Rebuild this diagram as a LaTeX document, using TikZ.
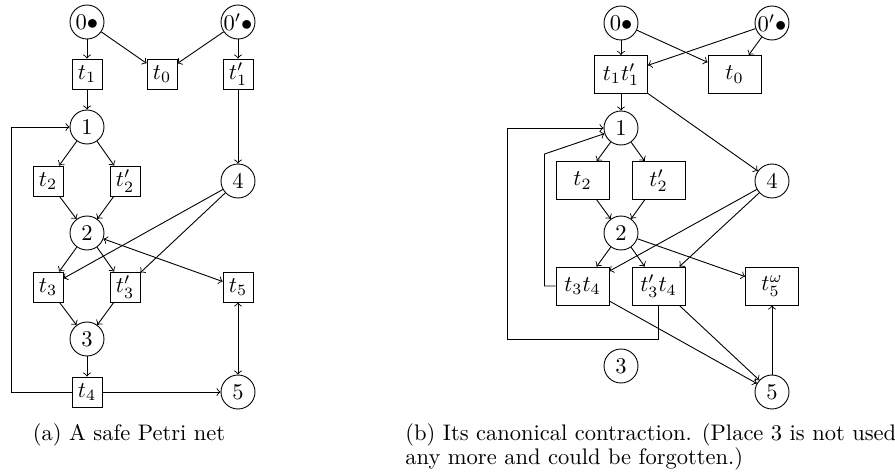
\documentclass[tikz,border=0pt]{standalone}
\usepackage{amsmath,amssymb}
\usepackage{tikz}
\usetikzlibrary{arrows,positioning}

\begin{document}
\begin{tikzpicture}[x=0.4444pt,y=-0.4444pt,>=to]
\tikzstyle{place}=[circle,draw,minimum size=15.1pt,inner sep=0pt]
\tikzstyle{trans}=[rectangle,draw,minimum size=13.3pt,inner sep=1pt]
\tikzstyle{ctrans}=[rectangle,draw,minimum width=23.6pt,minimum height=16.9pt,inner sep=1pt]
\tikzstyle{every path}=[->]
\useasboundingbox (0,0) rectangle (895,471);

% the safe net
\node[place] (p0) at (87,22) {$0\bullet$};
\node[place] (p0p) at (238,22) {$0'\bullet$};
\node[trans] (t1) at (87,74) {$t_1$};
\node[trans] (t0) at (162,74) {$t_0$};
\node[trans] (t1p) at (238,74) {$t'_1$};
\node[place] (p1) at (87,127) {$1$};
\node[trans] (t2) at (48,181) {$t_2$};
\node[trans] (t2p) at (125,181) {$t'_2$};
\node[place] (p4) at (238,181) {$4$};
\node[place] (p2) at (87,233) {$2$};
\node[trans] (t3) at (48,287) {$t_3$};
\node[trans] (t3p) at (125,287) {$t'_3$};
\node[trans] (t5) at (238,287) {$t_5$};
\node[place] (p3) at (87,339) {$3$};
\node[trans] (t4) at (87,392) {$t_4$};
\node[place] (p5) at (238,392) {$5$};

\draw (p0) -- (t1);
\draw (p0) -- (t0);
\draw (p0p) -- (t0);
\draw (p0p) -- (t1p);
\draw (t1) -- (p1);
\draw (t1p) -- (p4);
\draw (p1) -- (t2);
\draw (p1) -- (t2p);
\draw (t2) -- (p2);
\draw (t2p) -- (p2);
\draw (p2) -- (t3);
\draw (p2) -- (t3p);
\draw (p4) -- (t3);
\draw (p4) -- (t3p);
\draw[<->] (p2) -- (t5);
\draw (t3) -- (p3);
\draw (t3p) -- (p3);
\draw (p3) -- (t4);
\draw (t4) -- (p5);
\draw (t4.west) -- ++(-60,0) |- (p1.west);
\draw[<->] (t5) -- (p5);

\node[anchor=base] (capa) at (129,440) {(a) A safe Petri net};

% its canonical contraction
\node[place] (q0) at (621,23) {$0\bullet$};
\node[place] (q0p) at (772,23) {$0'\bullet$};
\node[ctrans] (u1) at (621,74.5) {$t_1t'_1$};
\node[ctrans] (u0) at (734.5,74.5) {$t_0$};
\node[place] (q1) at (621,128) {$1$};
\node[ctrans] (u2) at (582.5,180.5) {$t_2$};
\node[ctrans] (u2p) at (658.5,180.5) {$t'_2$};
\node[place] (q4) at (772,181) {$4$};
\node[place] (q2) at (621,233) {$2$};
\node[ctrans] (u34) at (582.5,286) {$t_3t_4$};
\node[ctrans] (u3p4) at (658.5,286) {$t'_3t_4$};
\node[ctrans] (u5) at (772,286) {$t^\omega_5$};
\node[place] (q3) at (621,366) {$3$};
\node[place] (q5) at (772,392) {$5$};

\draw (q0) -- (u1);
\draw (q0) -- (u0);
\draw (q0p) -- (u1);
\draw (q0p) -- (u0);
\draw (u1) -- (q1);
\draw (u1) -- (q4);
\draw (q1) -- (u2);
\draw (q1) -- (u2p);
\draw (u2) -- (q2);
\draw (u2p) -- (q2);
\draw (q2) -- (u34);
\draw (q2) -- (u3p4);
\draw (q2) -- (u5);
\draw (q4) -- (u34);
\draw (q4) -- (u3p4);
\draw (u34.west) -- ++(-11,0) -- ++(0,-132) -- (q1);
\draw (u3p4.south) -- ++(0,34) -- ++(-151.5,0) |- (q1.west);
\draw (u34) -- (q5);
\draw (u3p4) -- (q5);
\draw (q5) -- (u5);

\node[anchor=base west,align=left,inner sep=0pt] (capb) at (405,464)
  {(b) Its canonical contraction. (Place 3 is not used\\[-1.6pt]
   any more and could be forgotten.)};
\end{tikzpicture}
\end{document}
